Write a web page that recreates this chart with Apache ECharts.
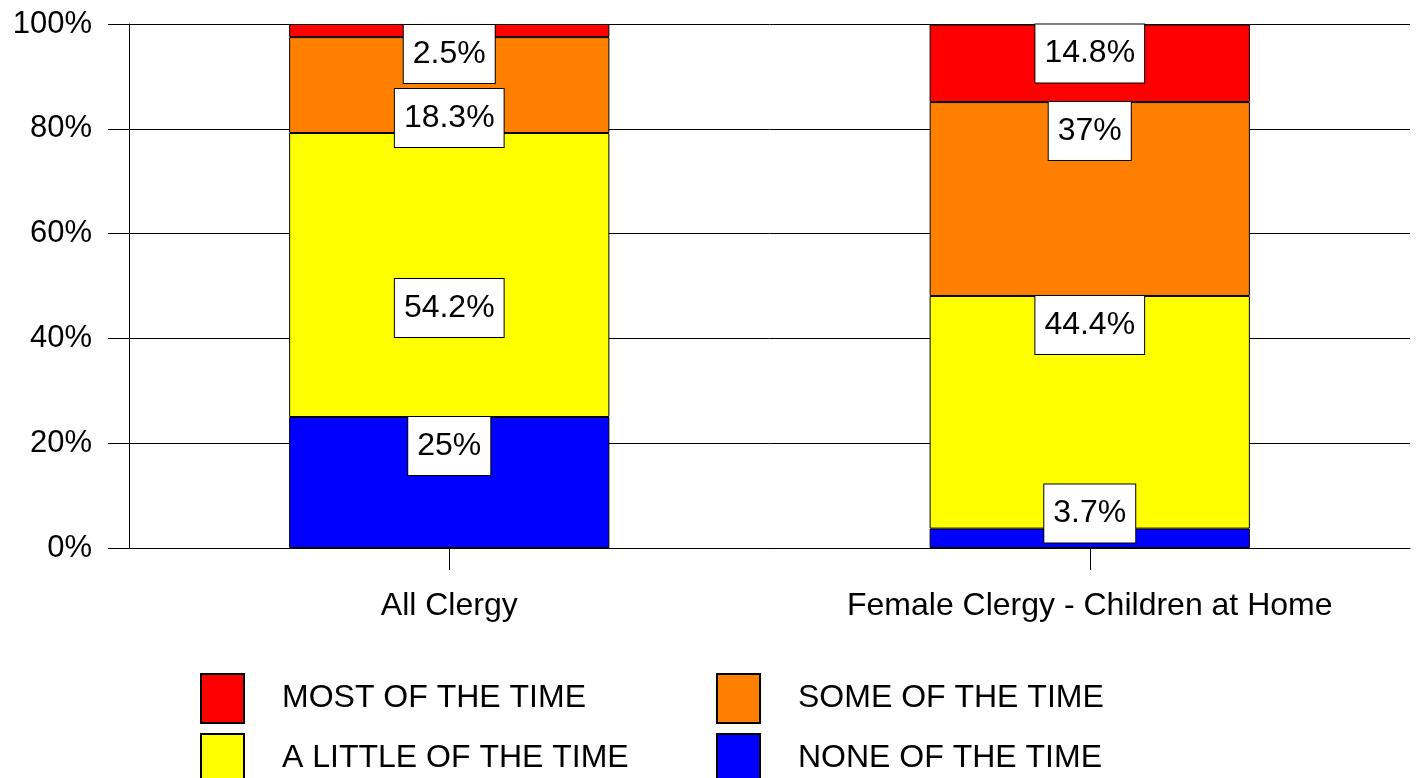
<!DOCTYPE html>
<html>
<head>
<meta charset="utf-8">
<title>Clergy chart</title>
<script src="https://cdn.jsdelivr.net/npm/echarts@6/dist/echarts.min.js"></script>
<style>
  html, body { margin: 0; padding: 0; background: #fff; }
  #chart { width: 1416px; height: 778px; }
</style>
</head>
<body>
<div id="chart"></div>
<script>
// data
var categories = ['All Clergy', 'Female Clergy - Children at Home'];
var noneOfTime = [25, 3.7];
var littleOfTime = [54.2, 44.4];
var someOfTime = [18.3, 37];
var mostOfTime = [2.5, 14.8];
var yTicks = [0, 20, 40, 60, 80, 100];

// label shifts (px) from the top of each segment
var noneShift = [0, -44];
var littleShift = [146, 0];
var someShift = [52, 0];
var mostShift = [1, 0];

var font = "'Liberation Sans', Arial, sans-serif";

function items(vals, shifts) {
    var out = [];
    for (var i = 0; i < vals.length; i++) {
        out.push({ value: vals[i], label: { offset: [0, shifts[i]] } });
    }
    return out;
}

function bar(name, color, vals, shifts) {
    return {
        name: name,
        type: 'bar',
        stack: 'total',
        barWidth: '50%',
        itemStyle: { color: color, borderColor: '#000', borderWidth: 1 },
        label: {
            show: true,
            position: 'insideTop',
            distance: 0,
            formatter: function (p) { return p.value + '%'; },
            color: '#000',
            fontFamily: font,
            fontSize: 32,
            lineHeight: 34,
            backgroundColor: '#fff',
            borderColor: '#000',
            borderWidth: 1,
            padding: [12, 9, 12, 9]
        },
        emphasis: { disabled: true },
        data: items(vals, shifts)
    };
}

var myChart = echarts.init(document.getElementById('chart'));

var legendCommon = {
    orient: 'vertical',
    top: 668,
    height: 130,
    itemWidth: 43,
    itemHeight: 49,
    itemGap: 9,
    icon: 'rect',
    selectedMode: false,
    textStyle: { fontFamily: font, fontSize: 32, color: '#000', padding: [0, 0, 0, 33] }
};

var option = {
    animation: false,
    grid: { left: 129, right: 6, top: 24, bottom: 230 },
    legend: [
        Object.assign({ left: 195, data: ['MOST OF THE TIME', 'A LITTLE OF THE TIME'] }, legendCommon),
        Object.assign({ left: 711, data: ['SOME OF THE TIME', 'NONE OF THE TIME'] }, legendCommon)
    ],
    xAxis: {
        type: 'category',
        data: categories,
        axisLine: { lineStyle: { color: '#000', width: 1 } },
        axisTick: { show: true, alignWithLabel: true, length: 22, lineStyle: { color: '#000', width: 1 } },
        axisLabel: { margin: 42, color: '#000', fontFamily: font, fontSize: 32 }
    },
    yAxis: {
        type: 'value',
        min: yTicks[0],
        max: yTicks[yTicks.length - 1],
        interval: yTicks[1] - yTicks[0],
        axisLine: { show: true, lineStyle: { color: '#000', width: 1 } },
        axisTick: { show: true, length: 21, lineStyle: { color: '#000' } },
        axisLabel: {
            margin: 37, color: '#000', fontFamily: font, fontSize: 31,
            formatter: function (v) { return v + '%'; }
        },
        splitLine: { lineStyle: { color: '#000', width: 1 } }
    },
    series: [
        bar('NONE OF THE TIME', '#0000ff', noneOfTime, noneShift),
        bar('A LITTLE OF THE TIME', '#ffff00', littleOfTime, littleShift),
        bar('SOME OF THE TIME', '#ff8000', someOfTime, someShift),
        bar('MOST OF THE TIME', '#ff0000', mostOfTime, mostShift)
    ]
};

myChart.setOption(option);
window.onresize = myChart.resize;
</script>
</body>
</html>
